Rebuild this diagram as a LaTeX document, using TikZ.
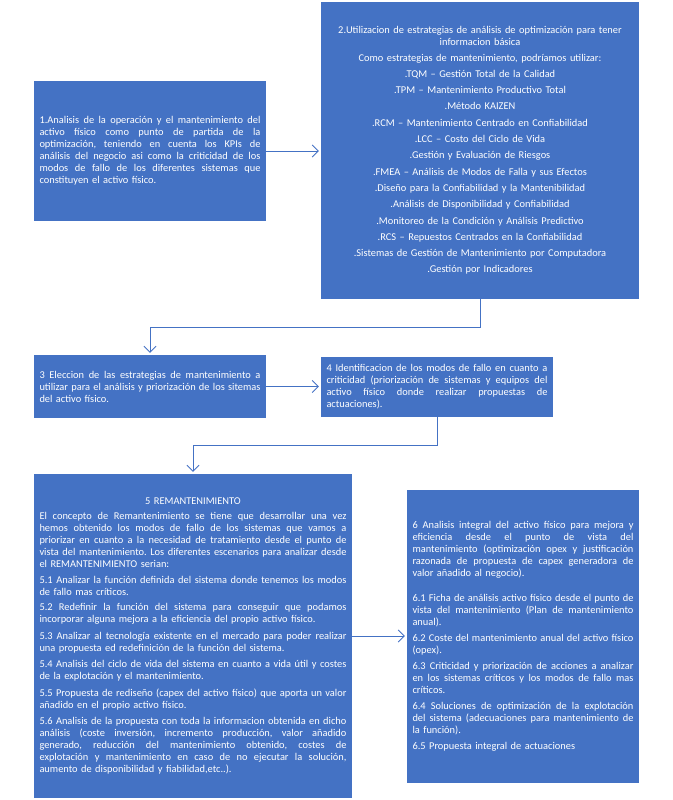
\documentclass[tikz,border=0pt]{standalone}
\usepackage{fontspec}
\setmainfont{Carlito}
\usetikzlibrary{arrows.meta}
\definecolor{obox}{HTML}{4472C4}
\newcommand{\jl}[1]{\leavevmode\hbox to \hsize{\spaceskip=0.226em plus 0.6em minus 0.12em\relax\xspaceskip=\spaceskip #1}}
\newcommand{\cl}[1]{\leavevmode\hbox to \hsize{\hfil #1\hfil}}
\begin{document}
\begin{tikzpicture}[x=1pt,y=-1pt,
  box/.style={fill=obox, text=white, inner xsep=5.5pt, inner ysep=0pt,
    font=\fontsize{10.4}{12}\selectfont\frenchspacing, align=left, anchor=center},
  conn/.style={draw=obox, line width=0.8pt, shorten >=2pt,
    -{Straight Barb[length=6pt,width=12pt]}}]
\useasboundingbox (0,0) rectangle (672,800);

\node[box, minimum width=232pt, minimum height=140pt, text width=221pt] (b1) at (150,151) {%
\jl{1.Analisis de la operación y el mantenimiento del}\\
\jl{activo físico como punto de partida de la}\\
\jl{optimización, teniendo en cuenta los KPIs de}\\
\jl{análisis del negocio asi como la criticidad de los}\\
\jl{modos de fallo de los diferentes sistemas que}\\
constituyen el activo físico.};

\node[box, align=center, minimum width=318pt, minimum height=297pt, text width=307pt] (b2) at (480,150.5) {%
2.Utilizacion de estrategias de análisis de optimización para tener\\
informacion básica\\[3.5pt]
Como estrategias de mantenimiento, podríamos utilizar:\\[4.3pt]
.TQM – Gestión Total de la Calidad\\[4.3pt]
.TPM – Mantenimiento Productivo Total\\[4.3pt]
.Método KAIZEN\\[4.3pt]
.RCM – Mantenimiento Centrado en Confiabilidad\\[4.3pt]
.LCC – Costo del Ciclo de Vida\\[4.3pt]
.Gestión y Evaluación de Riesgos\\[4.3pt]
.FMEA – Análisis de Modos de Falla y sus Efectos\\[4.3pt]
.Diseño para la Confiabilidad y la Mantenibilidad\\[4.3pt]
.Análisis de Disponibilidad y Confiabilidad\\[4.3pt]
.Monitoreo de la Condición y Análisis Predictivo\\[4.3pt]
.RCS – Repuestos Centrados en la Confiabilidad\\[4.3pt]
.Sistemas de Gestión de Mantenimiento por Computadora\\[4.3pt]
.Gestión por Indicadores};

\node[box, minimum width=232pt, minimum height=63pt, text width=221pt] (b3) at (150,386.5) {%
\jl{3 Eleccion de las estrategias de mantenimiento a}\\
\jl{utilizar para el análisis y priorización de los sitemas}\\
del activo físico.};

\node[box, minimum width=232pt, minimum height=60pt, text width=221pt] (b4) at (437,387) {%
\jl{4 Identificacion de los modos de fallo en cuanto a}\\
\jl{criticidad (priorización de sistemas y equipos del}\\
\jl{activo físico donde realizar propuestas de}\\
actuaciones).};

\node[box, minimum width=318pt, minimum height=324pt, text width=307pt] (b5) at (193,636) {%
\cl{5 REMANTENIMIENTO}\\[3pt]
\jl{El concepto de Remantenimiento se tiene que desarrollar una vez}\\
\jl{hemos obtenido los modos de fallo de los sistemas que vamos a}\\
\jl{priorizar en cuanto a la necesidad de tratamiento desde el punto de}\\
\jl{vista del mantenimiento. Los diferentes escenarios para analizar desde}\\
el REMANTENIMIENTO serian:\\[3.5pt]
\jl{5.1 Analizar la función definida del sistema donde tenemos los modos}\\
de fallo mas críticos.\\[3.5pt]
\jl{5.2 Redefinir la función del sistema para conseguir que podamos}\\
incorporar alguna mejora a la eficiencia del propio activo físico.\\[4.5pt]
\jl{5.3 Analizar al tecnología existente en el mercado para poder realizar}\\
una propuesta ed redefinición de la función del sistema.\\[4.5pt]
\jl{5.4 Analisis del ciclo de vida del sistema en cuanto a vida útil y costes}\\
de la explotación y el mantenimiento.\\[4.5pt]
\jl{5.5 Propuesta de rediseño (capex del activo físico) que aporta un valor}\\
añadido en el propio activo físico.\\[4.5pt]
\jl{5.6 Analisis de la propuesta con toda la informacion obtenida en dicho}\\
\jl{análisis (coste inversión, incremento producción, valor añadido}\\
\jl{generado, reducción del mantenimiento obtenido, costes de}\\
\jl{explotación y mantenimiento en caso de no ejecutar la solución,}\\
aumento de disponibilidad y fiabilidad,etc..).};

\node[box, minimum width=232pt, minimum height=293pt, text width=221pt] (b6) at (523,636.5) {%
\jl{6 Analisis integral del activo físico para mejora y}\\
\jl{eficiencia desde el punto de vista del}\\
\jl{mantenimiento (optimización opex y justificación}\\
\jl{razonada de propuesta de capex generadora de}\\
valor añadido al negocio).\\[13pt]
\jl{6.1 Ficha de análisis activo físico desde el punto de}\\
\jl{vista del mantenimiento (Plan de mantenimiento}\\
anual).\\[4pt]
\jl{6.2 Coste del mantenimiento anual del activo físico}\\
(opex).\\[4pt]
\jl{6.3 Criticidad y priorización de acciones a analizar}\\
\jl{en los sistemas críticos y los modos de fallo mas}\\
críticos.\\[4pt]
\jl{6.4 Soluciones de optimización de la explotación}\\
\jl{del sistema (adecuaciones para mantenimiento de}\\
la función).\\[4pt]
6.5 Propuesta integral de actuaciones};

\draw[conn] (b1.east) -- (b1.east -| b2.west);
\draw[conn] (b2.south) -- ++(0,28) -| (b3.north);
\draw[conn] (b3.east) -- (b3.east -| b4.west);
\draw[conn] (b4.south) -- ++(0,28) -| (b5.north);
\draw[conn] (b5.east) -- (b5.east -| b6.west);
\end{tikzpicture}
\end{document}
